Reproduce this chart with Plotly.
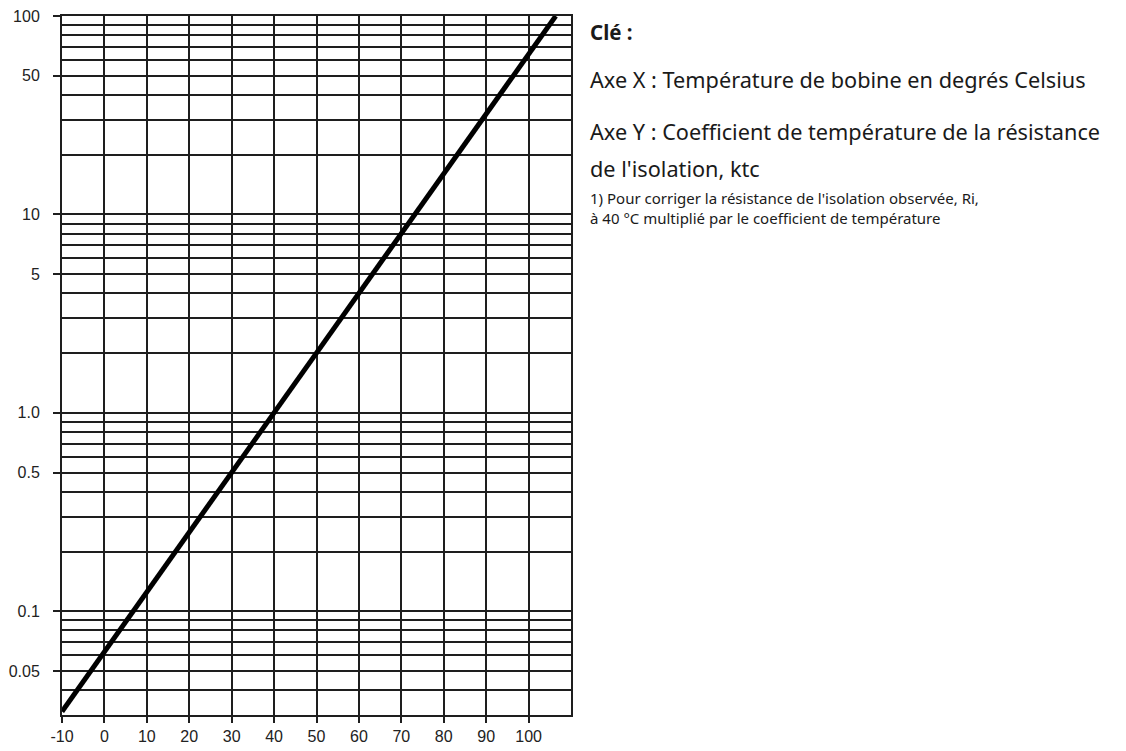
import plotly.graph_objects as go

# Coil temperature (°C) and insulation-resistance temperature coefficient ktc
temperature_c = [-10, 0, 10, 20, 30, 40, 50, 60, 70, 80, 90, 100, 106.4]
ktc = [0.03125, 0.0625, 0.125, 0.25, 0.5, 1.0, 2.0, 4.0, 8.0, 16.0, 32.0, 64.0, 100.0]

# Axis ticks
x_ticks = [-10, 0, 10, 20, 30, 40, 50, 60, 70, 80, 90, 100]
x_tick_text = ["-10", "0", "10", "20", "30", "40", "50", "60", "70", "80", "90", "100"]
y_major = [0.05, 0.1, 0.5, 1.0, 5, 10, 50, 100]
y_major_text = ["0.05", "0.1", "0.5", "1.0", "5", "10", "50", "100"]
y_minor = [0.04, 0.06, 0.07, 0.08, 0.09,
           0.2, 0.3, 0.4, 0.6, 0.7, 0.8, 0.9,
           2, 3, 4, 6, 7, 8, 9,
           20, 30, 40, 60, 70, 80, 90]

# Key text
key_title = "<b>Clé :</b>"
key_x = "Axe X : Température de bobine en degrés Celsius"
key_y1 = "Axe Y : Coefficient de température de la résistance"
key_y2 = "de l'isolation, ktc"
note_lines = [
    "1) Pour corriger la résistance de l'isolation observée, Ri,",
    "à 40 °C multiplié par le coefficient de température",
]

W, H = 1126, 751
L, R, T, B = 62, 555, 16, 36
plot_w, plot_h = W - L - R, H - T - B

GRID = "#1e1e1e"
TEXT = "#1a1a1a"

fig = go.Figure()
fig.add_trace(go.Scatter(
    x=temperature_c, y=ktc, mode="lines",
    line=dict(color="#000000", width=5),
    hoverinfo="skip", showlegend=False, cliponaxis=True,
))


def px_to_paper(px, py):
    return (px - L) / plot_w, (H - B - py) / plot_h


def add_text(text, px, py, size, family="Noto Sans"):
    xp, yp = px_to_paper(px, py)
    fig.add_annotation(
        text=text, x=xp, y=yp, xref="paper", yref="paper",
        xanchor="left", yanchor="middle", showarrow=False,
        font=dict(family=family, size=size, color=TEXT), align="left",
    )


add_text(key_title, 588, 32, 20.5)
add_text(key_x, 588, 79, 21.7)
add_text(key_y1, 588, 131, 21.7)
add_text(key_y2, 588, 168, 21.7)
add_text("<br>".join(note_lines), 588, 208, 15)

fig.update_layout(
    width=W, height=H,
    margin=dict(l=L, r=R, t=T, b=B, pad=0, autoexpand=False),
    paper_bgcolor="white", plot_bgcolor="white",
    font=dict(family="Liberation Sans, Arial, sans-serif", size=16, color="#222222"),
    xaxis=dict(
        range=[-10, 110], tickmode="array", tickvals=x_ticks, ticktext=x_tick_text,
        ticks="outside", ticklen=6, tickwidth=1.5, tickcolor=GRID,
        ticklabelstandoff=0, automargin=False,
        showgrid=True, gridcolor=GRID, gridwidth=1.5,
        showline=True, linecolor=GRID, linewidth=2, mirror=True,
        zeroline=False, fixedrange=True,
    ),
    yaxis=dict(
        type="log", range=[-1.5229, 2],
        tickmode="array", tickvals=y_major, ticktext=y_major_text,
        ticks="outside", ticklen=7, tickwidth=1.5, tickcolor=GRID,
        ticklabelstandoff=10, automargin=False,
        showgrid=True, gridcolor=GRID, gridwidth=1.5,
        minor=dict(tickvals=y_minor, ticks="", showgrid=True,
                   gridcolor=GRID, gridwidth=1.5),
        showline=True, linecolor=GRID, linewidth=2, mirror=True,
        zeroline=False, fixedrange=True,
    ),
)

fig.write_html("out.html")
